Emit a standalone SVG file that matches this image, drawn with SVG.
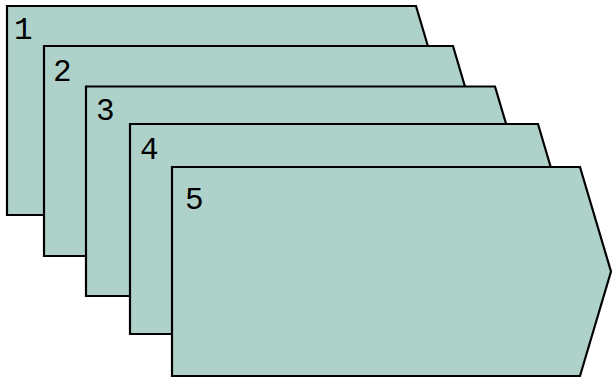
<svg xmlns="http://www.w3.org/2000/svg" width="612" height="378" viewBox="0 0 612 378">
<style>
.s{fill:#aed2ca;stroke:#000;stroke-width:2.2;stroke-linejoin:miter}
.t{font-family:"Liberation Mono","Courier New",monospace;font-size:31px;fill:#000}
</style>
<rect width="612" height="378" fill="#fff"/>
<g id="node1"><path class="s" d="M7,6 H416 L447,110.5 L416,215 H7 Z"/><text class="t" x="14" y="39">1</text></g>
<g id="node2"><path class="s" d="M44,46 H453 L484,151 L453,256 H44 Z"/><text class="t" x="53" y="81">2</text></g>
<g id="node3"><path class="s" d="M86,86.5 H495 L526,191 L495,296 H86 Z"/><text class="t" x="96" y="120">3</text></g>
<g id="node4"><path class="s" d="M130,124 H538 L569,229 L538,334 H130 Z"/><text class="t" x="140" y="159">4</text></g>
<g id="node5"><path class="s" d="M172,167 H580 L611,271.5 L580,376 H172 Z"/><text class="t" x="185" y="208.5">5</text></g>
<g id="connectors"/>
</svg>
